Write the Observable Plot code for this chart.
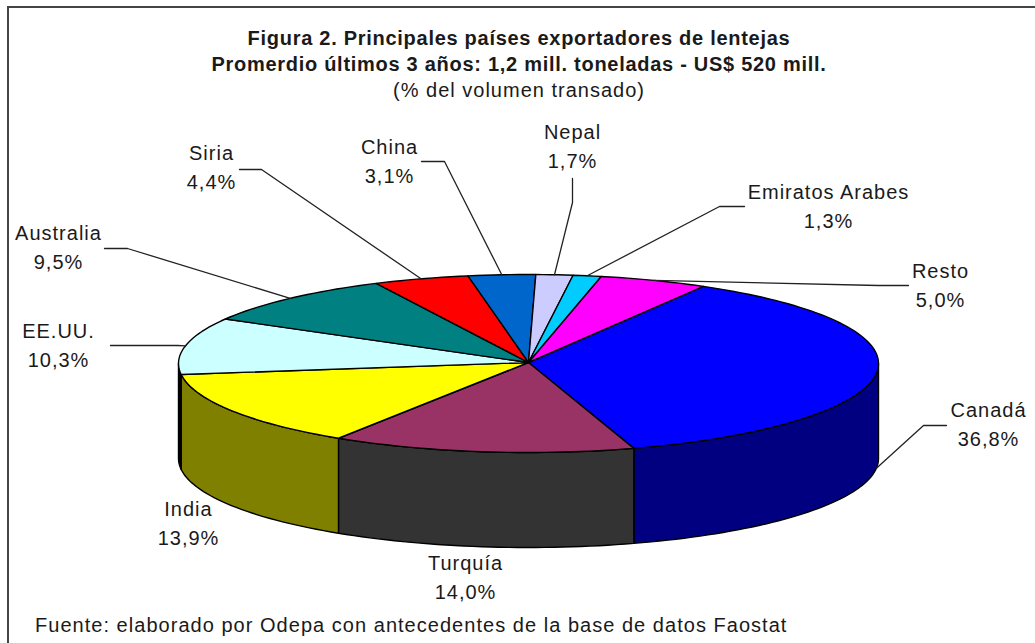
<!DOCTYPE html>
<html lang="es">
<head>
<meta charset="utf-8">
<script src="https://cdn.jsdelivr.net/npm/d3@7"></script>
<script src="https://cdn.jsdelivr.net/npm/@observablehq/plot@0.6"></script>
<style>
  html, body { margin: 0; padding: 0; background: #fff; overflow: hidden; height: 643px; }
  body { font-family: "Liberation Sans", Arial, sans-serif; color: #1a1a1a; position: relative; }
  #frame { position: absolute; left: 7px; top: 6px; width: 1040px; height: 700px; border: 2px solid #444; box-sizing: border-box; pointer-events: none; }
  #head { height: 105px; box-sizing: border-box; padding-top: 25px; text-align: center; width: 1038px; font-size: 20px; line-height: 26px; white-space: nowrap; }
  #head .t { font-weight: bold; letter-spacing: 0.72px; }
  #head .s { letter-spacing: 1px; }
  #chart svg { display: block; }
  #chart text { letter-spacing: 1px; }
  #cap { position: absolute; left: 35px; top: 613px; font-size: 20px; line-height: 24px; letter-spacing: 1.03px; white-space: nowrap; }
</style>
</head>
<body>
<div id="frame"></div>
<div id="head">
  <div class="t">Figura 2. Principales países exportadores de lentejas</div>
  <div class="t">Promerdio últimos 3 años: 1,2 mill. toneladas - US$ 520 mill.</div>
  <div class="s">(% del volumen transado)</div>
</div>
<div id="chart"></div>
<div id="cap">Fuente: elaborado por Odepa con antecedentes de la base de datos Faostat</div>
<script>
// Data, clockwise from the Resto/Canadá boundary
const countries = ["Canadá", "Turquía", "India", "EE.UU.", "Australia", "Siria", "China", "Nepal", "Emiratos Arabes", "Resto"];
const shares = [36.8, 14.0, 13.9, 10.3, 9.5, 4.4, 3.1, 1.7, 1.3, 5.0];
const shareLabels = ["36,8%", "14,0%", "13,9%", "10,3%", "9,5%", "4,4%", "3,1%", "1,7%", "1,3%", "5,0%"];
const topColors = ["#0000ff", "#993366", "#ffff00", "#ccffff", "#008080", "#ff0000", "#0066cc", "#ccccff", "#00ccff", "#ff00ff"];
const sideColors = ["#000080", "#333333", "#808000", "#000000", "#004040", "#800000", "#003366", "#666680", "#006680", "#800080"];

// Layout of the tilted pie, in page pixels
const W = 1035, H0 = 105, H1 = 610;
const cx = 528, cy = 363, rx = 350, ry = 89, depth = 95, startDeg = 30;
const labelBox = {
  "Canadá": {at: [988, 424], elbow: [923, 425], from: [946, 425], lower: true},
  "Turquía": {at: [465, 577]},
  "India": {at: [188, 523]},
  "EE.UU.": {at: [58, 345], elbow: [177, 345], from: [110, 345]},
  "Australia": {at: [58, 247], elbow: [127, 248], from: [104, 248]},
  "Siria": {at: [211, 167], elbow: [261, 169], from: [239, 169]},
  "China": {at: [389, 161], elbow: [444, 161], from: [421, 161]},
  "Nepal": {at: [572, 146], elbow: [572, 202], from: [572, 178]},
  "Emiratos Arabes": {at: [828, 206], elbow: [719, 206], from: [744, 206]},
  "Resto": {at: [940, 285], elbow: [878, 285], from: [908, 285]}
};

const rad = d => d * Math.PI / 180;
const rimX = t => cx + rx * Math.sin(rad(t));
const rimY = t => cy - ry * Math.cos(rad(t));

// Angles derived from the shares
const total = d3.sum(shares);
let acc = startDeg;
const slices = countries.map((name, i) => {
  const a0 = acc, a1 = acc + shares[i] / total * 360;
  acc = a1;
  return {name, i, a0, a1, mid: (a0 + a1) / 2, label: shareLabels[i]};
});

const arcAngles = (a, b) => {
  const n = Math.max(2, Math.ceil((b - a) / 1.5));
  return d3.range(n + 1).map(k => a + (b - a) * k / n);
};

const topPts = slices.flatMap(s => [
  {key: s.name, x: cx, y: cy - 1},
  ...arcAngles(s.a0, s.a1).map(t => ({key: s.name, x: rimX(t), y: rimY(t)}))
]);

const sidePts = slices.flatMap(s => {
  const a = Math.max(s.a0, 90), b = Math.min(s.a1, 270);
  if (b <= a) return [];
  const key = s.name + " lado";
  const ts = arcAngles(a, b);
  return [
    ...ts.map(t => ({key, x: rimX(t), y: rimY(t)})),
    ...ts.slice().reverse().map(t => ({key, x: rimX(t), y: rimY(t) + depth}))
  ];
});

const leaderPts = slices.flatMap(s => {
  const b = labelBox[s.name];
  if (!b.elbow) return [];
  const end = {x: rimX(s.mid), y: rimY(s.mid) + (b.lower ? depth : 0)};
  return [
    {key: s.name, x: b.from[0], y: b.from[1]},
    {key: s.name, x: b.elbow[0], y: b.elbow[1]},
    {key: s.name, ...end}
  ];
});

const labels = slices.map(s => ({
  text: s.name + "\n" + s.label,
  x: labelBox[s.name].at[0],
  y: labelBox[s.name].at[1]
}));

const plot = Plot.plot({
  width: W,
  height: H1 - H0,
  margin: 0,
  x: {domain: [0, W], range: [0, W], axis: null},
  y: {domain: [H0, H1], range: [0, H1 - H0], axis: null},
  color: {
    type: "ordinal",
    domain: [...countries, ...countries.map(n => n + " lado")],
    range: [...topColors, ...sideColors]
  },
  style: {background: "transparent", overflow: "visible"},
  marks: [
    Plot.line(sidePts, {x: "x", y: "y", z: "key", fill: "key", stroke: "#000", strokeWidth: 1.4, curve: "linear-closed"}),
    Plot.line(topPts, {x: "x", y: "y", z: "key", fill: "key", stroke: "#000", strokeWidth: 1.4, curve: "linear-closed"}),
    Plot.line(leaderPts, {x: "x", y: "y", z: "key", stroke: "#222", strokeWidth: 1.3, curve: "linear"}),
    Plot.text(labels, {x: "x", y: "y", dy: -2, text: "text", fontSize: 20, lineHeight: 1.42, fill: "#1a1a1a", fontFamily: "Liberation Sans"})
  ]
});
document.getElementById("chart").appendChild(plot);
</script>
</body>
</html>
